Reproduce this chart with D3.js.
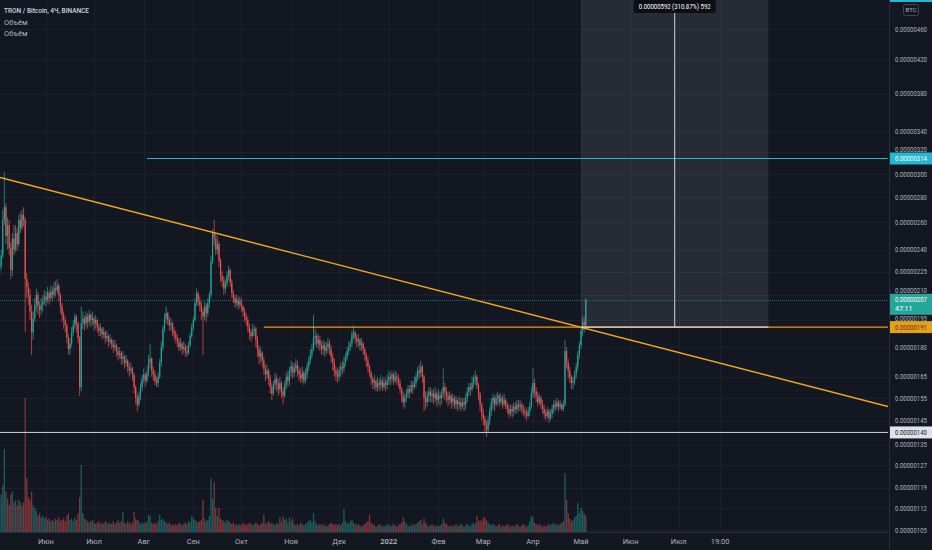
<!DOCTYPE html>
<html>
<head>
<meta charset="utf-8">
<script src="https://cdn.jsdelivr.net/npm/d3@7"></script>
<style>
  html, body { margin: 0; padding: 0; background: #131722; overflow: hidden; }
  svg { display: block; font-family: Roboto, "Noto Sans", sans-serif; }
</style>
</head>
<body>
<svg id="chart" width="932" height="550"></svg>
<script>
// prices in satoshi (1e-8 BTC), one candle per day starting 2021-05-03
const firstOpen = 222;
const closes = [
  228, 236, 262, 272, 250, 258, 241, 226, 248, 240,
  252, 244, 262, 256, 266, 262, 220, 215, 210, 200,
  188, 196, 204, 210, 203, 201, 204, 206, 209, 207,
  211, 208, 212, 210, 214, 213, 216, 210, 203, 198,
  195, 192, 185, 179, 182, 188, 192, 197, 193, 185,
  160, 193, 196, 193, 197, 194, 198, 195, 196, 193,
  195, 191, 189, 190, 187, 188, 185, 186, 183, 184,
  182, 180, 181, 178, 176, 177, 174, 175, 172, 173,
  170, 168, 169, 166, 160, 155, 152, 156, 160, 164,
  166, 163, 167, 172, 174, 168, 166, 163, 162, 165,
  172, 180, 190, 196, 199, 195, 192, 193, 189, 187,
  185, 183, 180, 182, 179, 180, 178, 177, 181, 186,
  191, 195, 205, 211, 206, 204, 200, 197, 203, 199,
  205, 210, 232, 252, 248, 240, 244, 232, 222, 219,
  214, 217, 222, 226, 218, 211, 208, 205, 207, 204,
  206, 203, 200, 197, 195, 191, 188, 186, 189, 190,
  184, 179, 175, 177, 173, 169, 166, 168, 164, 160,
  157, 161, 164, 162, 159, 162, 158, 156, 161, 165,
  163, 168, 170, 167, 169, 171, 168, 166, 164, 167,
  163, 166, 170, 173, 176, 179, 185, 186, 182, 184,
  181, 179, 181, 178, 180, 182, 179, 175, 172, 168,
  166, 165, 168, 170, 169, 172, 175, 178, 180, 182,
  187, 188, 185, 183, 184, 181, 182, 179, 176, 173,
  170, 167, 164, 162, 163, 160, 162, 161, 163, 160,
  162, 161, 163, 165, 164, 166, 163, 165, 164, 162,
  159, 156, 153, 155, 157, 159, 158, 161, 160, 162,
  165, 168, 167, 170, 165, 155, 153, 156, 158, 156,
  157, 155, 157, 154, 156, 155, 157, 160, 158, 156,
  154, 156, 153, 155, 152, 154, 152, 153, 151, 153,
  152, 155, 158, 160, 159, 162, 164, 165, 161, 157,
  152, 148, 146, 143, 141, 145, 149, 153, 155, 152,
  155, 156, 153, 155, 152, 154, 152, 150, 148, 150,
  149, 151, 150, 152, 151, 152, 150, 149, 148, 147,
  149, 151, 157, 162, 158, 156, 153, 155, 152, 150,
  148, 147, 149, 146, 148, 150, 152, 151, 153, 151,
  152, 150, 152, 178, 172, 168, 165, 162, 163, 166,
  170, 176, 181, 189, 194, 192, 207
];
const highs = [
  235, 240, 270, 302, 275, 264, 262, 245, 252, 258,
  258, 256, 266, 268, 270, 272, 264, 224, 218, 214,
  204, 200, 208, 214, 212, 206, 208, 210, 213, 212,
  215, 213, 216, 215, 218, 219, 220, 217, 211, 205,
  200, 197, 193, 187, 185, 191, 195, 199, 198, 194,
  186, 203, 200, 198, 200, 199, 201, 199, 200, 197,
  198, 196, 193, 193, 191, 191, 189, 189, 187, 187,
  185, 184, 184, 182, 180, 180, 178, 178, 176, 176,
  174, 172, 172, 170, 167, 161, 157, 158, 162, 166,
  169, 167, 170, 176, 182, 175, 170, 168, 165, 167,
  174, 183, 192, 199, 203, 200, 197, 196, 194, 191,
  189, 187, 185, 185, 183, 183, 182, 181, 183, 188,
  193, 197, 208, 214, 212, 209, 206, 202, 206, 205,
  208, 212, 236, 255, 262, 252, 250, 246, 234, 225,
  222, 220, 225, 229, 227, 220, 213, 210, 210, 209,
  209, 208, 204, 202, 199, 197, 193, 190, 193, 192,
  191, 186, 181, 180, 178, 175, 171, 171, 169, 166,
  162, 163, 167, 166, 164, 165, 163, 160, 163, 167,
  168, 170, 173, 172, 172, 174, 173, 170, 169, 170,
  168, 169, 172, 175, 179, 182, 198, 190, 188, 187,
  186, 183, 184, 183, 183, 185, 184, 181, 177, 174,
  170, 169, 170, 172, 173, 175, 177, 180, 183, 184,
  189, 192, 189, 187, 187, 185, 185, 183, 180, 177,
  175, 171, 168, 165, 166, 164, 165, 164, 166, 164,
  165, 164, 166, 168, 167, 168, 167, 168, 167, 166,
  164, 160, 158, 157, 159, 161, 161, 163, 163, 165,
  167, 170, 171, 173, 171, 166, 158, 158, 160, 160,
  159, 159, 160, 158, 159, 158, 159, 169, 162, 160,
  158, 158, 157, 157, 156, 156, 155, 156, 155, 155,
  155, 157, 160, 162, 162, 165, 166, 168, 166, 162,
  158, 153, 150, 147, 145, 147, 151, 155, 157, 156,
  157, 158, 157, 157, 156, 157, 155, 153, 152, 152,
  152, 153, 153, 154, 154, 154, 153, 152, 151, 150,
  151, 153, 160, 169, 164, 160, 158, 157, 156, 154,
  152, 150, 151, 150, 150, 152, 154, 154, 155, 154,
  154, 153, 154, 184, 180, 174, 170, 166, 165, 168,
  172, 178, 183, 191, 197, 197, 208
];
const lows = [
  220, 226, 234, 258, 244, 240, 236, 220, 222, 236,
  238, 239, 242, 252, 254, 257, 188, 208, 204, 195,
  176, 184, 194, 200, 198, 196, 198, 200, 204, 203,
  205, 204, 207, 206, 208, 209, 211, 206, 199, 194,
  190, 188, 182, 176, 176, 180, 186, 190, 188, 182,
  156, 158, 190, 189, 191, 190, 192, 191, 192, 189,
  190, 188, 186, 186, 184, 185, 182, 183, 180, 181,
  179, 177, 178, 175, 173, 174, 171, 171, 169, 170,
  167, 165, 166, 163, 157, 152, 149, 151, 154, 158,
  162, 160, 162, 165, 169, 165, 163, 161, 160, 160,
  164, 170, 178, 188, 193, 192, 189, 189, 186, 184,
  182, 180, 178, 178, 176, 177, 175, 175, 176, 180,
  185, 189, 194, 203, 203, 200, 195, 176, 195, 194,
  197, 202, 208, 230, 243, 236, 237, 228, 218, 215,
  210, 211, 215, 219, 215, 208, 205, 202, 203, 201,
  202, 200, 197, 194, 192, 188, 184, 183, 185, 186,
  180, 175, 171, 172, 170, 166, 163, 164, 161, 157,
  154, 156, 159, 158, 156, 157, 155, 152, 155, 159,
  160, 161, 165, 164, 165, 167, 165, 163, 162, 162,
  161, 162, 164, 168, 171, 174, 178, 181, 180, 179,
  178, 176, 176, 175, 176, 177, 176, 172, 168, 165,
  163, 162, 163, 165, 166, 167, 170, 173, 176, 178,
  180, 184, 182, 180, 180, 178, 178, 176, 173, 170,
  167, 165, 161, 159, 159, 158, 158, 158, 159, 158,
  159, 158, 159, 161, 161, 162, 161, 162, 161, 160,
  157, 153, 151, 150, 153, 155, 155, 157, 157, 159,
  160, 163, 164, 165, 162, 149, 150, 151, 153, 153,
  153, 152, 153, 151, 152, 151, 152, 155, 154, 153,
  151, 152, 150, 151, 150, 150, 149, 150, 149, 150,
  149, 150, 153, 156, 156, 158, 160, 161, 159, 154,
  149, 145, 143, 140, 138, 140, 143, 147, 150, 149,
  151, 152, 151, 152, 150, 151, 150, 148, 146, 147,
  146, 147, 148, 148, 149, 149, 148, 147, 146, 145,
  146, 147, 150, 155, 155, 153, 151, 152, 150, 148,
  146, 145, 146, 144, 145, 146, 148, 149, 150, 149,
  150, 149, 149, 151, 169, 164, 162, 159, 159, 161,
  164, 168, 174, 179, 186, 188, 190
];
// volume, relative units
const volumes = [
  22, 28, 35, 62, 30, 25, 20, 28, 30, 22, 24, 20, 24, 22, 20, 22, 100, 40, 26, 24,
  30, 20, 18, 16, 12, 14, 11, 12, 10, 11, 9, 10, 8, 9, 8, 10, 9, 11, 8, 9,
  10, 8, 12, 14, 9, 10, 8, 11, 9, 14, 26, 50, 14, 10, 9, 8, 7, 8, 9, 7,
  6, 7, 8, 6, 7, 6, 8, 7, 6, 7, 6, 8, 6, 7, 9, 7, 8, 15, 7, 6,
  8, 7, 6, 7, 15, 10, 9, 8, 6, 7, 6, 7, 8, 13, 12, 7, 6, 7, 6, 8,
  13, 9, 10, 8, 7, 6, 7, 5, 6, 5, 6, 5, 7, 6, 5, 6, 7, 6, 8, 7,
  12, 10, 9, 8, 7, 8, 9, 24, 10, 8, 9, 12, 40, 25, 37, 18, 12, 18, 10, 9,
  8, 7, 9, 8, 7, 6, 7, 5, 6, 5, 6, 5, 7, 6, 5, 6, 7, 6, 5, 6,
  7, 6, 5, 6, 7, 13, 6, 7, 8, 6, 7, 6, 5, 7, 6, 11, 8, 12, 9, 10,
  7, 11, 8, 10, 6, 5, 6, 5, 7, 6, 5, 6, 7, 8, 9, 7, 14, 8, 6, 5,
  6, 5, 6, 5, 4, 5, 6, 7, 6, 5, 6, 5, 6, 5, 7, 17, 8, 7, 6, 8,
  9, 7, 6, 5, 6, 5, 4, 5, 6, 7, 8, 13, 7, 6, 5, 4, 5, 6, 5, 4,
  5, 4, 6, 5, 4, 5, 6, 5, 4, 5, 6, 7, 11, 8, 6, 5, 4, 5, 6, 5,
  6, 7, 8, 9, 6, 10, 7, 5, 4, 5, 6, 5, 4, 5, 4, 5, 6, 10, 7, 6,
  5, 4, 5, 4, 5, 6, 4, 5, 6, 5, 4, 5, 6, 5, 4, 6, 7, 6, 12, 8,
  9, 8, 10, 11, 9, 7, 6, 5, 6, 5, 4, 5, 6, 4, 5, 4, 5, 6, 5, 4,
  5, 4, 5, 6, 5, 4, 5, 6, 5, 4, 5, 8, 12, 11, 7, 6, 5, 6, 5, 4,
  5, 4, 5, 6, 5, 6, 7, 5, 6, 5, 6, 7, 8, 44, 24, 14, 10, 8, 9, 11,
  12, 22, 14, 18, 16, 14, 12
];

const priceTicks = [460, 420, 380, 340, 320, 300, 280, 260, 240, 225, 210, 195, 180, 165, 155, 145, 135, 127, 119, 112, 105];
const timeTicks = [
  ["2021-06-01", "Июн"], ["2021-07-01", "Июл"], ["2021-08-01", "Авг"], ["2021-09-01", "Сен"],
  ["2021-10-01", "Окт"], ["2021-11-01", "Ноя"], ["2021-12-01", "Дек"], ["2022-01-01", "2022"],
  ["2022-02-01", "Фев"], ["2022-03-01", "Мар"], ["2022-04-01", "Апр"], ["2022-05-01", "Май"],
  ["2022-06-01", "Июн"], ["2022-07-01", "Июл"], ["2022-07-26T19:00", "19:00"]
];

// drawings
const trendLine = [["2021-05-03", 297], ["2022-05-03", 190.4]];
const cyanLevel = { from: "2021-08-03", price: 314 };
const orangeLevel = { from: "2021-10-15", price: 191 };
const supportLevel = 140;
const lastPrice = 207;
const measure = { from: "2022-05-01", to: "2022-08-26", base: 191, top: 592, label: "0.00000592 (310.87%) 592" };

const W = 932, H = 550, paneW = 888, paneH = 532;
const parse = s => new Date(s + (s.length === 10 ? "T00:00Z" : "Z"));
const fmt = v => (v * 1e-8).toFixed(8);

const svg = d3.select("#chart");
svg.append("rect").attr("width", W).attr("height", H).attr("fill", "#131722");

let x = d3.scaleUtc()
    .domain([parse("2021-06-01"), parse("2022-05-01")])
    .range([46, 581]);
let y = d3.scaleLog().domain([105, 460]).range([530, 29]);
let vy = d3.scaleLinear().domain([0, 100]).range([paneH, 398]);

svg.append("defs").append("clipPath").attr("id", "pane")
    .append("rect").attr("width", paneW).attr("height", paneH);

// grid
let grid = svg.append("g").attr("clip-path", "url(#pane)");
grid.selectAll("line.h").data(priceTicks).join("line")
    .attr("x1", 0).attr("x2", paneW)
    .attr("y1", d => Math.round(y(d)) + 0.5).attr("y2", d => Math.round(y(d)) + 0.5)
    .attr("stroke", "#1c202b");
grid.selectAll("line.v").data(timeTicks).join("line")
    .attr("x1", d => Math.round(x(parse(d[0]))) + 0.5).attr("x2", d => Math.round(x(parse(d[0]))) + 0.5)
    .attr("y1", 0).attr("y2", paneH)
    .attr("stroke", "#1c202b");

let pane = svg.append("g").attr("clip-path", "url(#pane)");

// measure box (behind candles)
let mx0 = x(parse(measure.from)), mx1 = x(parse(measure.to)), mxc = (mx0 + mx1) / 2;
pane.append("rect")
    .attr("x", mx0).attr("width", mx1 - mx0)
    .attr("y", y(measure.top)).attr("height", y(measure.base) - y(measure.top))
    .attr("fill", "rgba(120,123,134,0.2)");

// candles data
const N = Math.min(closes.length, highs.length, lows.length, volumes.length);
const start = parse("2021-05-03");
let bars = [];
for (let i = 0; i < N; i++) {
    let o = i ? closes[i - 1] : firstOpen, c = closes[i];
    bars.push({
        date: d3.utcDay.offset(start, i), o: o, c: c,
        h: Math.max(highs[i], o, c), l: Math.min(lows[i], o, c), v: volumes[i]
    });
}
const up = "#26a69a", down = "#ef5350";

// volume
pane.append("g").selectAll("rect").data(bars).join("rect")
    .attr("x", d => x(d.date) - 0.65).attr("width", 1.3)
    .attr("y", d => vy(d.v)).attr("height", d => paneH - vy(d.v))
    .attr("fill", d => d.c >= d.o ? "rgba(38,166,154,0.5)" : "rgba(239,83,80,0.5)");

// candles
let cg = pane.append("g");
cg.selectAll("line").data(bars).join("line")
    .attr("x1", d => x(d.date)).attr("x2", d => x(d.date))
    .attr("y1", d => y(d.h)).attr("y2", d => y(d.l))
    .attr("stroke", d => d.c >= d.o ? up : down).attr("stroke-width", 0.7);
cg.selectAll("rect").data(bars).join("rect")
    .attr("x", d => x(d.date) - 0.6).attr("width", 1.2)
    .attr("y", d => y(Math.max(d.o, d.c)))
    .attr("height", d => Math.max(0.8, Math.abs(y(d.o) - y(d.c))))
    .attr("fill", d => d.c >= d.o ? up : down);

// cyan level
let cyanY = y(cyanLevel.price);
pane.append("line").attr("x1", x(parse(cyanLevel.from))).attr("x2", paneW)
    .attr("y1", cyanY).attr("y2", cyanY).attr("stroke", "#22b8cf").attr("stroke-width", 1);

// trend line, extended across the pane
let ax = x(parse(trendLine[0][0])), ay = y(trendLine[0][1]);
let bx = x(parse(trendLine[1][0])), by = y(trendLine[1][1]);
let k = (by - ay) / (bx - ax);
pane.append("line")
    .attr("x1", 0).attr("y1", ay + k * (0 - ax))
    .attr("x2", paneW).attr("y2", ay + k * (paneW - ax))
    .attr("stroke", "#f2a71e").attr("stroke-width", 1.3);

// orange level
let orY = y(orangeLevel.price);
pane.append("line").attr("x1", x(parse(orangeLevel.from))).attr("x2", paneW)
    .attr("y1", orY).attr("y2", orY).attr("stroke", "#ff9800").attr("stroke-width", 1.2);

// support level
let supY = y(supportLevel);
pane.append("line").attr("x1", 0).attr("x2", paneW)
    .attr("y1", supY).attr("y2", supY).attr("stroke", "#d1d4dc").attr("stroke-width", 1);

// last price line
let lpY = Math.round(y(lastPrice)) + 0.5;
pane.append("line").attr("x1", 0).attr("x2", paneW)
    .attr("y1", lpY).attr("y2", lpY)
    .attr("stroke", "rgba(38,166,154,0.6)").attr("stroke-dasharray", "1,1");

// measure lines
pane.append("line").attr("x1", mx0).attr("x2", mx1)
    .attr("y1", y(measure.base)).attr("y2", y(measure.base))
    .attr("stroke", "#d1d4dc").attr("stroke-width", 1.2);
let labelY = Math.max(0, y(measure.top) - 14);
pane.append("line").attr("x1", mxc).attr("x2", mxc)
    .attr("y1", labelY + 13).attr("y2", y(measure.base))
    .attr("stroke", "#d1d4dc").attr("stroke-width", 1);
svg.append("rect").attr("x", mxc - 41).attr("y", labelY).attr("width", 82).attr("height", 13)
    .attr("rx", 2).attr("fill", "#0c0e14");
svg.append("text").attr("x", mxc).attr("y", labelY + 9.2).attr("text-anchor", "middle")
    .attr("font-size", 7.5).attr("fill", "#ffffff")
    .attr("textLength", 72).attr("lengthAdjust", "spacingAndGlyphs")
    .text(measure.label);

// axes frame
svg.append("line").attr("x1", 0).attr("x2", paneW).attr("y1", paneH + 0.5).attr("y2", paneH + 0.5)
    .attr("stroke", "#2a2e39");
svg.append("line").attr("x1", paneW + 1.5).attr("x2", paneW + 1.5).attr("y1", 0).attr("y2", H)
    .attr("stroke", "#2a2e39");

// price axis labels, nudged off the tags that sit on top of them
const tagPrices = [cyanLevel.price, lastPrice, orangeLevel.price, supportLevel];
function tickY(v) {
    let py = y(v);
    tagPrices.forEach(t => {
        let d = py - y(t);
        if (Math.abs(d) < 9) py = y(t) + (d < 0 ? -9 : 9);
    });
    return py;
}
svg.append("g").selectAll("text").data(priceTicks).join("text")
    .attr("x", 895).attr("y", d => tickY(d) + 2.6)
    .attr("font-size", 7).attr("fill", "#b2b5be")
    .attr("textLength", 32).attr("lengthAdjust", "spacingAndGlyphs")
    .text(d => fmt(d));

// time axis labels
svg.append("g").selectAll("text").data(timeTicks).join("text")
    .attr("x", d => x(parse(d[0]))).attr("y", 544)
    .attr("text-anchor", "middle").attr("font-size", 7.5)
    .attr("font-weight", d => d[1] === "2022" ? 600 : 400)
    .attr("fill", "#b2b5be")
    .text(d => d[1]);

// price tags on the scale
function tag(price, fill, color, extra) {
    let cy = y(price);
    let h = extra ? 21 : 12;
    svg.append("rect").attr("x", 890).attr("y", cy - 6).attr("width", 42).attr("height", h)
        .attr("fill", fill);
    svg.append("text").attr("x", 895).attr("y", cy + 2.5)
        .attr("font-size", 7).attr("fill", color)
        .attr("textLength", 32).attr("lengthAdjust", "spacingAndGlyphs")
        .text(fmt(price));
    if (extra) {
        svg.append("text").attr("x", 895).attr("y", cy + 11)
            .attr("font-size", 7).attr("fill", color).text(extra);
    }
}
tag(cyanLevel.price, "#22b8cf", "#ffffff");
tag(lastPrice, "#26a69a", "#ffffff", "47:11");
tag(orangeLevel.price, "#e3a21a", "#6b2a0c");
tag(supportLevel, "#e0e3eb", "#131722");

// partially hidden tag at the top of the scale
svg.append("rect").attr("x", 890).attr("y", -10).attr("width", 42).attr("height", 12).attr("fill", "#22b8cf");

// currency box
svg.append("rect").attr("x", 903.5).attr("y", 4.5).attr("width", 15).attr("height", 11)
    .attr("rx", 2).attr("fill", "none").attr("stroke", "#434651");
svg.append("text").attr("x", 911).attr("y", 12.3).attr("text-anchor", "middle")
    .attr("font-size", 6).attr("fill", "#b2b5be").text("BTC");

// legend
svg.append("text").attr("x", 4).attr("y", 12.5).attr("font-size", 8).attr("font-weight", 500)
    .attr("fill", "#d1d4dc").attr("textLength", 85).attr("lengthAdjust", "spacingAndGlyphs")
    .text("TRON / Bitcoin, 4Ч, BINANCE");
svg.append("text").attr("x", 4).attr("y", 24.5).attr("font-size", 7.5).attr("fill", "#b2b5be").text("Объём");
svg.append("text").attr("x", 4).attr("y", 36).attr("font-size", 7.5).attr("fill", "#b2b5be").text("Объём");
</script>
</body>
</html>
